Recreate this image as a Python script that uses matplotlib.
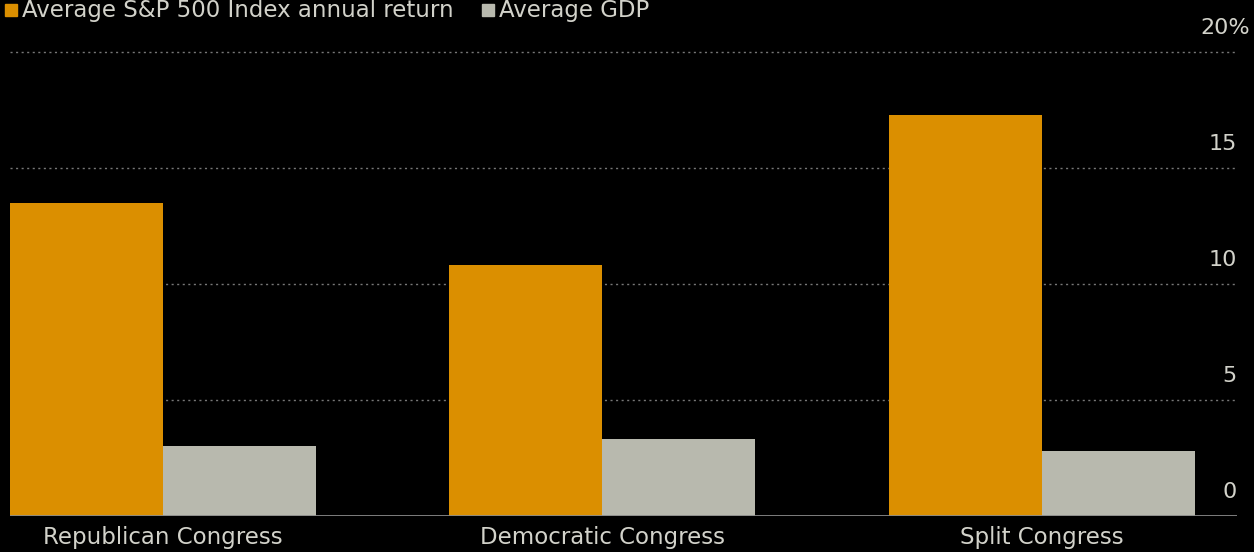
import matplotlib
matplotlib.use("Agg")
import matplotlib.pyplot as plt
import numpy as np

# values (percent)
categories = ["Republican Congress", "Democratic Congress", "Split Congress"]
sp500_return = [13.5, 10.8, 17.3]
gdp = [3.0, 3.3, 2.8]
tick_vals = [0, 5, 10, 15, 20]
tick_text = ["0", "5", "10", "15", "20%"]
legend_names = ["Average S&P 500 Index annual return", "Average GDP"]

orange = "#db8f00"
grey = "#b8b9ae"
txt = "#d2d2ca"

W, H = 1254, 552
fig = plt.figure(figsize=(W / 100, H / 100), dpi=100, facecolor="black")
# axes box in pixels: left 10, right 1237, bottom 516, top 52
ax = fig.add_axes([10 / W, (H - 516) / H, (1237 - 10) / W, (516 - 52) / H])
ax.set_facecolor("black")

x = np.arange(len(categories))
w = 0.348
ax.bar(x - w / 2, sp500_return, w, color=orange, zorder=3)
ax.bar(x + w / 2, gdp, w, color=grey, zorder=3)

ax.set_xlim(-0.348, 2.444)
ax.set_ylim(0, 20)

for s in ax.spines.values():
    s.set_visible(False)
ax.axhline(0, color="#8a8a8a", lw=2, zorder=4)
for v in tick_vals[1:]:
    ax.axhline(v, color="#777777", lw=1, ls=(0, (1.5, 2.5)), zorder=1, clip_on=False)

ax.set_yticks([])
ax.set_xticks(x)
ax.set_xticklabels(categories, fontsize=16.5, color=txt)
ax.tick_params(axis="x", length=0, pad=7)

# right-side value labels sitting above each gridline
for v, t in zip(tick_vals, tick_text):
    xr = 1.0 if t != "20%" else 1.011
    ax.text(xr, v + 1.05, t, transform=ax.get_yaxis_transform(), ha="right", va="center",
            fontsize=16, color=txt, clip_on=False)

# legend along the top edge
fig.patches.append(plt.Rectangle((5 / W, 1 - 16 / H), 12 / W, 12 / H, transform=fig.transFigure,
                                 color=orange, figure=fig))
fig.text(22 / W, 1 - 10 / H, legend_names[0], fontsize=16.5, color=txt, va="center", ha="left")
fig.patches.append(plt.Rectangle((482 / W, 1 - 16 / H), 12 / W, 12 / H, transform=fig.transFigure,
                                 color=grey, figure=fig))
fig.text(499 / W, 1 - 10 / H, legend_names[1], fontsize=16.5, color=txt, va="center", ha="left")

fig.savefig("out.png", dpi=100, facecolor="black")
